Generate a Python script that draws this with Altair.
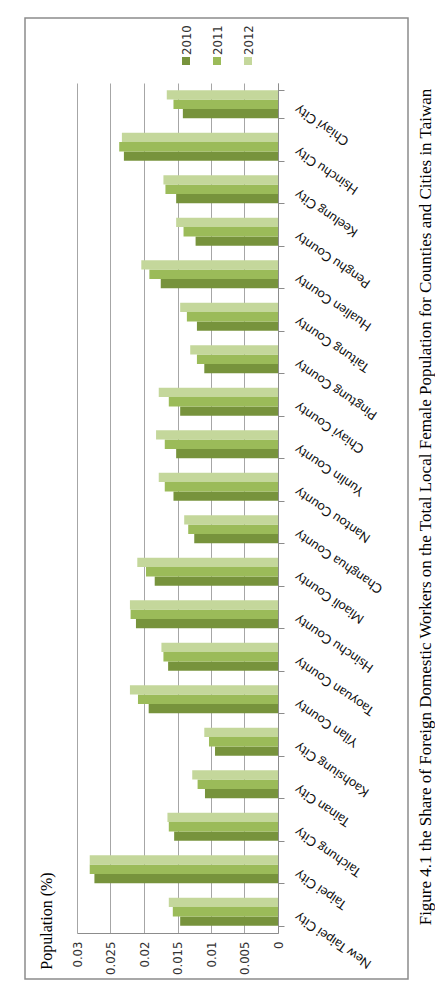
import altair as alt
import pandas as pd

# ---------------- data ----------------
categories = [
    "New Taipei City", "Taipei City", "Taichung City", "Tainan City", "Kaohsiung City",
    "Yilan County", "Taoyuan County", "Hsinchu County", "Miaoli County", "Changhua County",
    "Nantou County", "Yunlin County", "Chiayi County", "Pingtung County", "Taitung County",
    "Hualien County", "Penghu County", "Keelung City", "Hsinchu City", "Chiayi City",
]
years = ["2010", "2011", "2012"]
share_2010 = [0.0146, 0.0274, 0.0155, 0.0109, 0.0094, 0.0193, 0.0164, 0.0212, 0.0184, 0.0125,
              0.0156, 0.0152, 0.0146, 0.0110, 0.0121, 0.0175, 0.0123, 0.0152, 0.0230, 0.0142]
share_2011 = [0.0157, 0.0281, 0.0163, 0.0120, 0.0103, 0.0209, 0.0171, 0.0220, 0.0197, 0.0134,
              0.0169, 0.0169, 0.0163, 0.0121, 0.0136, 0.0192, 0.0141, 0.0168, 0.0237, 0.0156]
share_2012 = [0.0163, 0.0281, 0.0165, 0.0128, 0.0110, 0.0221, 0.0174, 0.0221, 0.0210, 0.0140,
              0.0178, 0.0182, 0.0178, 0.0131, 0.0146, 0.0204, 0.0152, 0.0171, 0.0233, 0.0166]
value_ticks = [0, 0.005, 0.01, 0.015, 0.02, 0.025, 0.03]
colors = ["#77933C", "#9BBB59", "#C4D79B"]
axis_title = "Population (%)"
caption = ("Figure 4.1 the Share of Foreign Domestic Workers on the Total Local Female "
           "Population for Counties and Cities in Taiwan")

rows = []
for yr, vals in zip(years, [share_2010, share_2011, share_2012]):
    for c, v in zip(categories, vals):
        rows.append({"county": c, "year": yr, "share": v})
df = pd.DataFrame(rows)

texts = pd.DataFrame({"label": [axis_title, caption], "role": ["axis", "caption"]})

NARROW = "'Liberation Sans Narrow', 'Arial Narrow', 'DejaVu Sans Condensed', sans-serif"

# ---------------- layout ----------------
W, H = 201, 850
L, T = 77, 83

frame = alt.Chart(pd.DataFrame({"k": [0]})).mark_rect(
    fillOpacity=0, stroke="#8c8c8c", strokeWidth=1.5
).encode(x=alt.value(25 - L), x2=alt.value(408 - L), y=alt.value(18 - T), y2=alt.value(979 - T))

bars = alt.Chart(df).mark_bar().encode(
    x=alt.X(
        "share:Q",
        scale=alt.Scale(domain=[0, 0.03], reverse=True, nice=False),
        axis=alt.Axis(
            values=value_ticks, format="~g", orient="bottom", grid=True,
            gridColor="#a6a6a6", gridWidth=1, domainColor="#8c8c8c", ticks=False,
            labelAngle=270, labelAlign="right", labelBaseline="middle", labelPadding=8,
            labelFont=NARROW, labelFontSize=13, labelColor="#333",
            labelOverlap=False, labelFlush=False, title=None,
        ),
    ),
    y=alt.Y(
        "county:N", sort=list(reversed(categories)),
        scale=alt.Scale(paddingInner=0.34, paddingOuter=0.17),
        axis=alt.Axis(
            orient="right", title=None, tickBand="extent", ticks=True, tickSize=6,
            tickColor="#8c8c8c", domainColor="#8c8c8c", grid=False,
            labelAngle=214, labelAlign="right", labelBaseline="alphabetic",
            labelPadding=14, labelFont="Lato", labelFontSize=13, labelColor="#111",
            labelOverlap=False, labelLimit=300,
        ),
    ),
    yOffset=alt.YOffset("year:N", scale=alt.Scale(domain=["2012", "2011", "2010"])),
    color=alt.Color("year:N", scale=alt.Scale(domain=years, range=colors), legend=None),
)

ytitle = alt.Chart(texts).transform_filter(alt.datum.role == "axis").mark_text(
    angle=270, align="center", baseline="alphabetic",
    font="Liberation Serif", fontSize=16, color="#000"
).encode(x=alt.value(52 - L), y=alt.value(921 - T), text="label:N")

cap = alt.Chart(texts).transform_filter(alt.datum.role == "caption").mark_text(
    angle=270, align="center", baseline="alphabetic",
    font="Liberation Serif", fontSize=17, color="#000"
).encode(x=alt.value(431 - L), y=alt.value(507 - T), text="label:N")

legend_layers = []
for i, (yr, col) in enumerate(zip(years, colors)):
    lx = 186 - L + 31 * i
    d = pd.DataFrame({"year": [yr]})
    legend_layers.append(
        alt.Chart(d).mark_square(size=64, color=col, opacity=1).encode(
            x=alt.value(lx), y=alt.value(61 - T)
        )
    )
    legend_layers.append(
        alt.Chart(d).mark_text(
            angle=270, align="left", baseline="middle",
            font=NARROW, fontSize=13, color="#333"
        ).encode(x=alt.value(lx + 1), y=alt.value(55 - T), text="year:N")
    )

chart = alt.layer(frame, bars, ytitle, cap, *legend_layers).properties(
    width=W, height=H,
    padding={"left": L, "top": T, "right": 435 - L - W, "bottom": 981 - T - H},
    autosize=alt.AutoSizeParams(type="none"),
    background="white",
).configure_view(stroke=None)

chart.save("out.html", embed_options={"renderer": "svg", "actions": False})
